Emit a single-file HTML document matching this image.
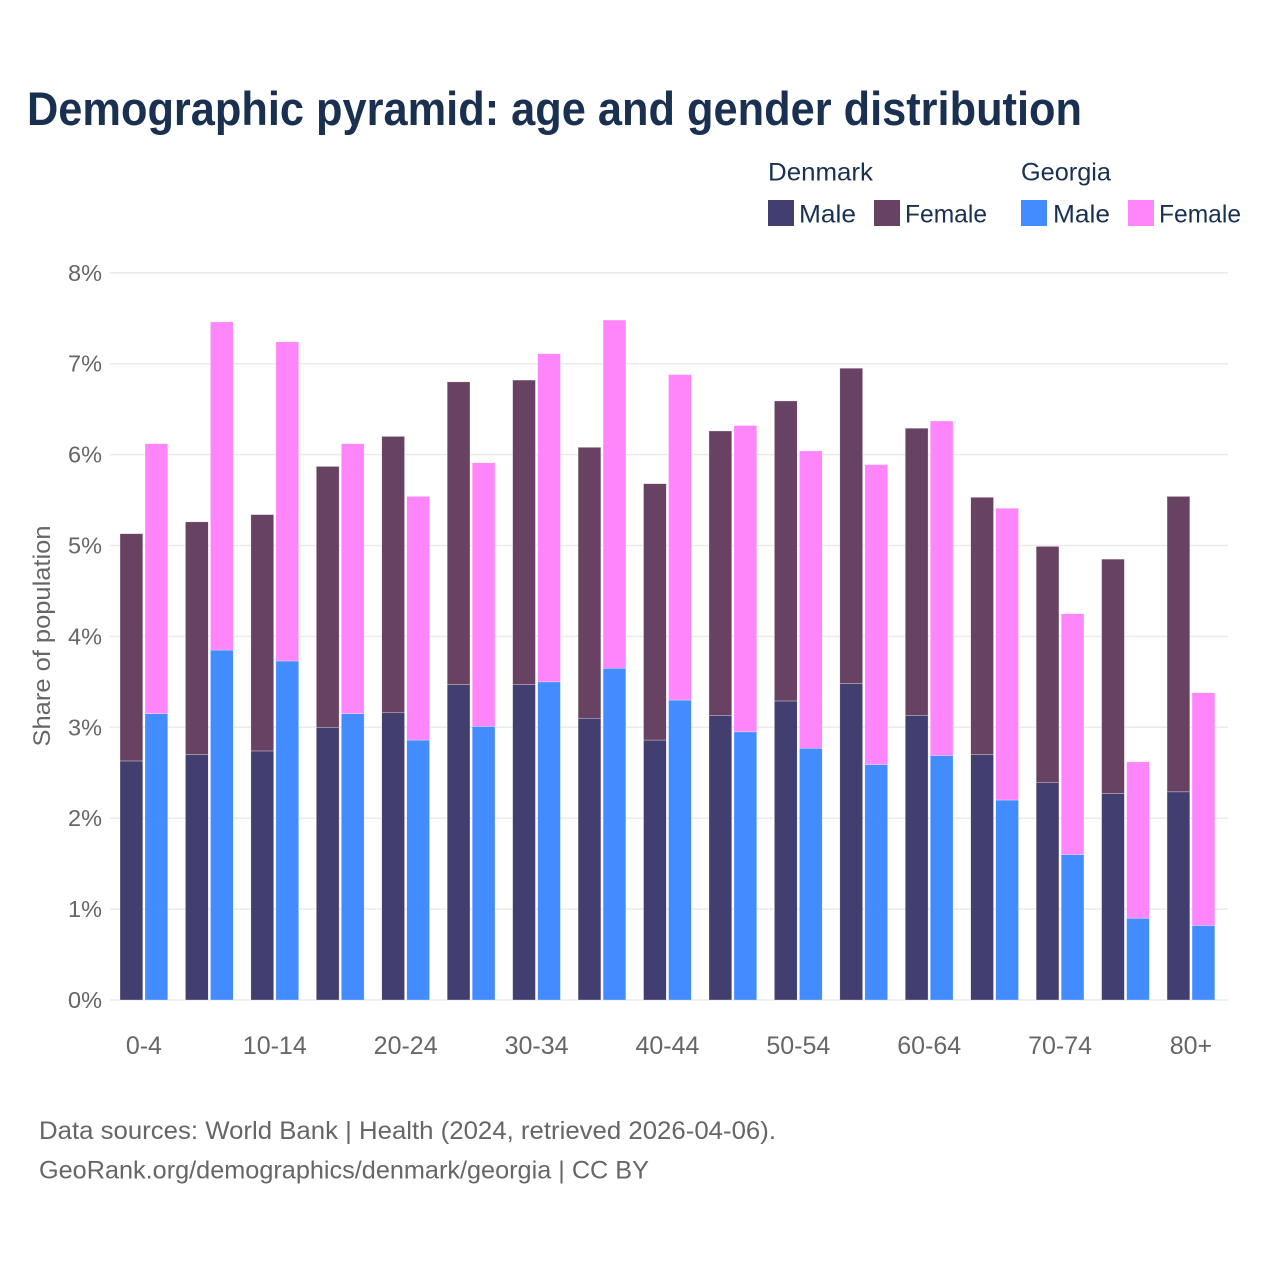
<!DOCTYPE html>
<html lang="en">
<head>
<meta charset="utf-8">
<title>Demographic pyramid</title>
<style>
html,body{margin:0;padding:0;background:#fff}
svg{display:block}
text{font-family:"Liberation Sans",sans-serif}
</style>
</head>
<body>
<svg id="chart" xmlns="http://www.w3.org/2000/svg" width="1280" height="1280" viewBox="0 0 1280 1280">
  <rect width="1280" height="1280" fill="#fff"/>
  <text x="27" y="125" font-size="47" font-weight="700" fill="#1a3050" textLength="1055" lengthAdjust="spacingAndGlyphs">Demographic pyramid: age and gender distribution</text>

  <g font-size="25" fill="#1a3050">
    <text x="768" y="180.5" textLength="105" lengthAdjust="spacingAndGlyphs">Denmark</text>
    <text x="1021" y="180.5" textLength="90" lengthAdjust="spacingAndGlyphs">Georgia</text>
    <rect x="768" y="200" width="26" height="26" fill="#433e70"/>
    <text x="799" y="222.5" textLength="57" lengthAdjust="spacingAndGlyphs">Male</text>
    <rect x="874" y="200" width="26" height="26" fill="#684262"/>
    <text x="905" y="222.5" textLength="82" lengthAdjust="spacingAndGlyphs">Female</text>
    <rect x="1021" y="200" width="26" height="26" fill="#428cff"/>
    <text x="1053" y="222.5" textLength="57" lengthAdjust="spacingAndGlyphs">Male</text>
    <rect x="1128" y="200" width="26" height="26" fill="#ff85fb"/>
    <text x="1159" y="222.5" textLength="82" lengthAdjust="spacingAndGlyphs">Female</text>
  </g>

  <g id="grid"></g>
  <g id="yticks"></g>
  <g id="bars"></g>
  <g id="xticks"></g>

  <text transform="translate(50,636) rotate(-90)" text-anchor="middle" font-size="24" fill="#666" textLength="221" lengthAdjust="spacingAndGlyphs">Share of population</text>

  <text x="39" y="1139" font-size="25" fill="#666" textLength="737" lengthAdjust="spacingAndGlyphs">Data sources: World Bank | Health (2024, retrieved 2026-04-06).</text>
  <text x="39" y="1178.5" font-size="25" fill="#666" textLength="610" lengthAdjust="spacingAndGlyphs">GeoRank.org/demographics/denmark/georgia | CC BY</text>
</svg>
<script>
const ageGroups = ["0-4","5-9","10-14","15-19","20-24","25-29","30-34","35-39","40-44","45-49","50-54","55-59","60-64","65-69","70-74","75-79","80+"];
const denmarkMale = [2.63,2.70,2.74,3.00,3.16,3.47,3.47,3.10,2.86,3.13,3.29,3.48,3.13,2.70,2.39,2.27,2.29];
const denmarkFemale = [2.50,2.56,2.60,2.87,3.04,3.33,3.35,2.98,2.82,3.13,3.30,3.47,3.16,2.83,2.60,2.58,3.25];
const georgiaMale = [3.15,3.85,3.73,3.15,2.86,3.01,3.50,3.65,3.30,2.95,2.77,2.59,2.69,2.20,1.60,0.90,0.82];
const georgiaFemale = [2.97,3.61,3.51,2.97,2.68,2.90,3.61,3.83,3.58,3.37,3.27,3.30,3.68,3.21,2.65,1.72,2.56];
const yTicks = [0,1,2,3,4,5,6,7,8];

const NS = "http://www.w3.org/2000/svg";
const yScale = v => 1000 - v * 90.9;
const groupX = i => 120 + i * 65.44;
const barW = 22.8;
const offs = 25;

function mk(tag, attrs, parent) {
  const el = document.createElementNS(NS, tag);
  for (const k in attrs) el.setAttribute(k, attrs[k]);
  parent.appendChild(el);
  return el;
}

const grid = document.getElementById("grid");
const yt = document.getElementById("yticks");
yTicks.forEach(t => {
  const line = mk("line", {x1:110, x2:1228, y1:yScale(t), y2:yScale(t), stroke:"#ebebeb", "stroke-width":1.5}, grid);
  
  
  const label = mk("text", {x:102, y:yScale(t)+8, "text-anchor":"end", "font-size":23.5, fill:"#666"}, yt);
  
  
  label.textContent = t + "%";
});

const bars = document.getElementById("bars");
function seg(x, v0, v1, fill, parent) {
  const r = mk("rect", {x:x, y:yScale(v1), width:barW, height:yScale(v0)-yScale(v1), fill:fill, stroke:"#fff", "stroke-width":0.5, "stroke-opacity":0.6}, parent);
  
  
}
ageGroups.forEach((g, i) => {
  const x = groupX(i);
  seg(x, 0, denmarkMale[i], "#433e70", bars);
  seg(x, denmarkMale[i], denmarkMale[i] + denmarkFemale[i], "#684262", bars);
  seg(x + offs, 0, georgiaMale[i], "#428cff", bars);
  seg(x + offs, georgiaMale[i], georgiaMale[i] + georgiaFemale[i], "#ff85fb", bars);
});

const xt = document.getElementById("xticks");
ageGroups.forEach((g, i) => {
  if (i % 2) return;
  const label = mk("text", {x:groupX(i)+23.9, y:1054, "text-anchor":"middle", "font-size":25, fill:"#666"}, xt);
  
  
  label.textContent = g;
});
</script>
</body>
</html>
